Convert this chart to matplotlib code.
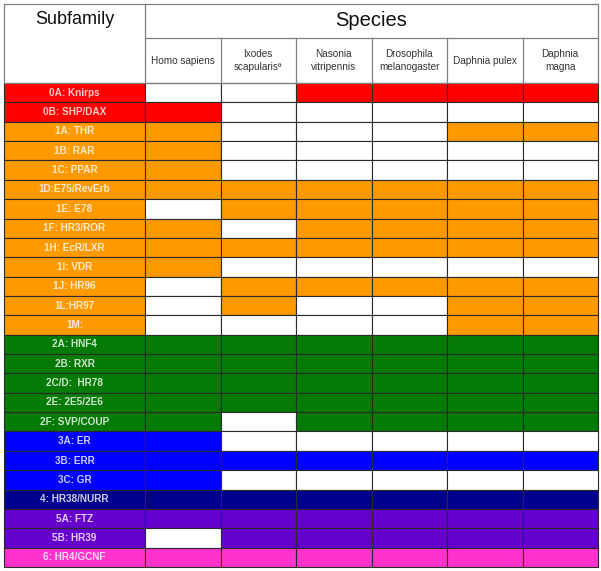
import matplotlib.pyplot as plt
import numpy as np

species = ["Homo sapiens", "Ixodes\nscapularisª", "Nasonia\nvitripennis",
           "Drosophila\nmelanogaster", "Daphnia pulex", "Daphnia\nmagna"]

subfamilies = ["0A: Knirps", "0B: SHP/DAX", "1A: THR", "1B: RAR", "1C: PPAR",
               "1D:E75/RevErb", "1E: E78", "1F: HR3/ROR", "1H: EcR/LXR", "1I: VDR",
               "1J: HR96", "1L:HR97", "1M:", "2A: HNF4", "2B: RXR", "2C/D:  HR78",
               "2E: 2E5/2E6", "2F: SVP/COUP", "3A: ER", "3B: ERR", "3C: GR",
               "4: HR38/NURR", "5A: FTZ", "5B: HR39", "6: HR4/GCNF"]

groups = ["0", "0", "1", "1", "1", "1", "1", "1", "1", "1", "1", "1", "1",
          "2", "2", "2", "2", "2", "3", "3", "3", "4", "5", "5", "6"]

group_colors = {"0": "#ff0000", "1": "#ff9900", "2": "#067a06", "3": "#0000ff",
                "4": "#00008c", "5": "#6600cc", "6": "#ff33cc"}

# presence (1) / absence (0) per subfamily, columns in species order
presence = [
    [0, 0, 1, 1, 1, 1],
    [1, 0, 0, 0, 0, 0],
    [1, 0, 0, 0, 1, 1],
    [1, 0, 0, 0, 0, 0],
    [1, 0, 0, 0, 0, 0],
    [1, 1, 1, 1, 1, 1],
    [0, 1, 1, 1, 1, 1],
    [1, 0, 1, 1, 1, 1],
    [1, 1, 1, 1, 1, 1],
    [1, 0, 0, 0, 0, 0],
    [0, 1, 1, 1, 1, 1],
    [0, 1, 0, 0, 1, 1],
    [0, 0, 0, 0, 1, 1],
    [1, 1, 1, 1, 1, 1],
    [1, 1, 1, 1, 1, 1],
    [1, 1, 1, 1, 1, 1],
    [1, 1, 1, 1, 1, 1],
    [1, 0, 1, 1, 1, 1],
    [1, 0, 0, 0, 0, 0],
    [1, 1, 1, 1, 1, 1],
    [1, 0, 0, 0, 0, 0],
    [1, 1, 1, 1, 1, 1],
    [1, 1, 1, 1, 1, 1],
    [0, 1, 1, 1, 1, 1],
    [1, 1, 1, 1, 1, 1],
]

# layout in pixels
left, label_right, right = 4, 145, 598
top, species_row, data_top, bottom = 4, 38, 83, 567

fig = plt.figure(figsize=(6.01, 5.71), dpi=100)
ax = fig.add_axes([0, 0, 1, 1])
ax.set_xlim(0, 601)
ax.set_ylim(571, 0)
ax.axis("off")

n_rows = len(subfamilies)
n_cols = len(species)
row_h = (bottom - data_top) / n_rows
col_edges = np.linspace(label_right, right, n_cols + 1)
col_w = col_edges[1] - col_edges[0]
row_centers = data_top + row_h * (np.arange(n_rows) + 0.5)
row_colors = [group_colors[g] for g in groups]
edge = "#2a2a2a"

# subfamily label column
ax.barh(row_centers, label_right - left, left=left, height=row_h,
        color=row_colors, edgecolor=edge, linewidth=0.8)
for y, name in zip(row_centers, subfamilies):
    ax.text((left + label_right) / 2, y, name, ha="center", va="center",
            fontsize=7.2, fontweight="bold", color="white", alpha=0.8,
            family="Liberation Sans")

# presence cells
pres = np.array(presence)
for j in range(n_cols):
    colors = [c if p else "white" for c, p in zip(row_colors, pres[:, j])]
    ax.barh(row_centers, col_w, left=col_edges[j], height=row_h,
            color=colors, edgecolor=edge, linewidth=0.8)

# header
hdr = "#7f7f7f"
ax.plot([left, right, right, left, left], [top, top, data_top, data_top, top],
        color=hdr, lw=0.9)
ax.plot([label_right, label_right], [top, data_top], color=hdr, lw=0.9)
ax.plot([label_right, right], [species_row, species_row], color=hdr, lw=0.9)
for x in col_edges[1:-1]:
    ax.plot([x, x], [species_row, data_top], color=hdr, lw=0.9)

ax.text((left + label_right) / 2, 19, "Subfamily", ha="center", va="center",
        fontsize=13, color="#111111", family="Liberation Sans")
ax.text((label_right + right) / 2, 21, "Species", ha="center", va="center",
        fontsize=14.5, color="#111111", family="Liberation Sans")
for j, sp in enumerate(species):
    ax.text(col_edges[j] + col_w / 2, (species_row + data_top) / 2, sp,
            ha="center", va="center", fontsize=7.2, color="#333333",
            family="Liberation Sans", linespacing=1.3)

fig.savefig("out.png", dpi=100)
